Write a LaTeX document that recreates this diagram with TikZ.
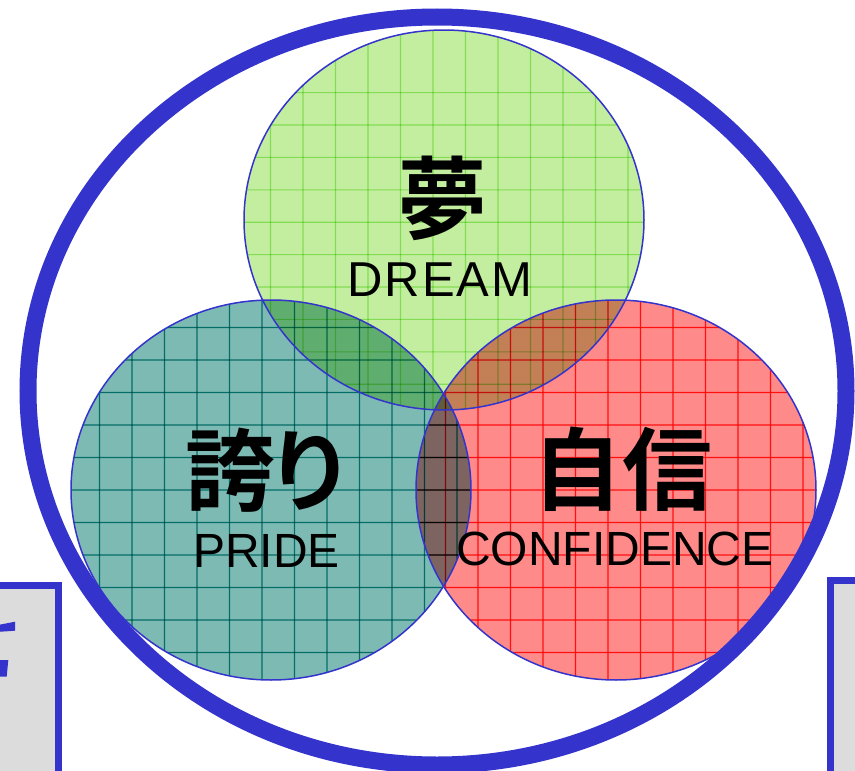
\documentclass[tikz,border=0pt]{standalone}
\usepackage{fontspec}
\setmainfont{Liberation Sans}
\newfontfamily\jp{Noto Sans CJK JP Bold}
\definecolor{ringblue}{RGB}{52,52,204}
\definecolor{gfill}{RGB}{195,238,160}
\definecolor{gline}{RGB}{172,236,132}
\definecolor{tfill}{RGB}{126,186,180}
\definecolor{tline}{RGB}{10,150,146}
\definecolor{rfill}{RGB}{255,138,138}
\definecolor{rline}{RGB}{255,30,30}
\definecolor{boxgray}{RGB}{220,220,220}
\tikzset{
  jptext/.style={inner sep=0pt, font=\jp\fontsize{90}{90}\selectfont},
  entext/.style={inner sep=0pt, font=\fontsize{48}{48}\selectfont},
  gridline/.style={line width=1.1pt},
  venn/.style={draw=ringblue, line width=1.5pt},
  sidebox/.style={draw=ringblue, line width=7pt, fill=boxgray}
}
\begin{document}
\begin{tikzpicture}[x=1pt,y=-1pt]
\useasboundingbox (0,0) rectangle (855,771);
\clip (0,0) rectangle (855,771);
% side boxes
\draw[sidebox] (-20,585) rectangle (58,800);
\draw[sidebox] (830,580.5) rectangle (880,800);
\fill[ringblue] (-2,625) -- (15,621.7) -- (15,630.7) -- (-2,631.9) -- cycle;
\fill[ringblue] (-2,660) -- (8.3,660) -- (6.7,676.7) -- (-2,676.7) -- cycle;
% venn circles
\begin{scope}[blend group=multiply]
  \fill[gfill] (444,220) ellipse [x radius=200, y radius=190];
  \begin{scope}
    \clip (444,220) ellipse [x radius=200, y radius=190];
    \foreach \i in {-7,...,7} \draw[gline,gridline] ({433+32.5*\i},0) -- ({433+32.5*\i},450);
    \foreach \i in {-1,...,12} \draw[gline,gridline] (200,{125+32.4*\i}) -- (700,{125+32.4*\i});
  \end{scope}
  \fill[tfill] (271,490) ellipse [x radius=200, y radius=190];
  \begin{scope}
    \clip (271,490) ellipse [x radius=200, y radius=190];
    \foreach \i in {-5,...,9} \draw[tline,gridline] ({197+32.5*\i},280) -- ({197+32.5*\i},700);
    \foreach \i in {-5,...,8} \draw[tline,gridline] (50,{425+32.5*\i}) -- (500,{425+32.5*\i});
  \end{scope}
  \fill[rfill] (616,490) ellipse [x radius=200, y radius=190];
  \begin{scope}
    \clip (616,490) ellipse [x radius=200, y radius=190];
    \foreach \i in {-3,...,11} \draw[rline,gridline] ({478+32.5*\i},280) -- ({478+32.5*\i},700);
    \foreach \i in {-5,...,8} \draw[rline,gridline] (400,{425+32.5*\i}) -- (850,{425+32.5*\i});
  \end{scope}
\end{scope}
\draw[venn] (444,220) ellipse [x radius=200, y radius=190];
\draw[venn] (271,490) ellipse [x radius=200, y radius=190];
\draw[venn] (616,490) ellipse [x radius=200, y radius=190];
% big ring
\draw[ringblue, line width=17pt] (437,391) ellipse [x radius=409, y radius=374];
% labels
\node[jptext] (dreamjp) at (442,198) {夢};
\node[entext, font=\fontsize{49}{49}\selectfont\addfontfeatures{LetterSpace=4}] (dreamen) at (440,279.5) {DREAM};
\node[jptext] (pridejp) at (270,470) {誇\kern-10pt り};
\node[entext] (prideen) at (266.5,551) {PRIDE};
\node[jptext] (confjp) at (622,469) {自信};
\node[entext] (confen) at (615,549) {CONFIDENCE};
\end{tikzpicture}
\end{document}
